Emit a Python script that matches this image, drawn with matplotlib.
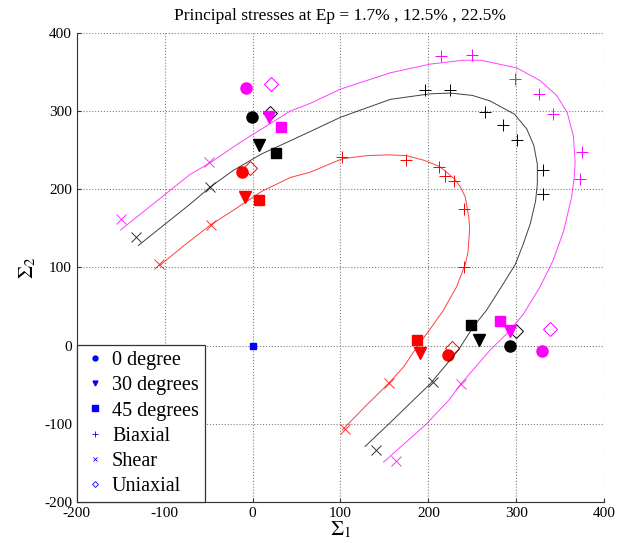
import numpy as np
import matplotlib
matplotlib.use("Agg")
import matplotlib.pyplot as plt

plt.rcParams['font.family'] = ['Liberation Serif', 'DejaVu Serif']
plt.rcParams['mathtext.fontset'] = 'stix'
plt.rcParams['axes.unicode_minus'] = False

# pontos experimentais (sigma1, sigma2) para cada Ep: vermelho 1.7%, preto 12.5%, magenta 22.5%
cores = ['#ff0000', '#000000', '#ff00ff']

# 0 degree (circulo)
circ_x = [[-12, 222], [-1, 293], [-7, 329]]
circ_y = [[222, -12], [293, -1], [329, -7]]
# 30 degrees (triangulo)
tri_x = [[-9, 190], [7, 258], [19, 293]]
tri_y = [[190, -9], [257, 7], [292, 19]]
# 45 degrees (quadrado)
quad_x = [[7, 187], [27, 248], [32, 281]]
quad_y = [[186, 7], [246, 26], [279, 31]]
# uniaxial (losango)
los_x = [[-3, 227], [20, 300], [21, 338]]
los_y = [[227, -3], [298, 19], [335, 21]]

# biaxial (+)
bi_x = [[102, 175, 212, 219, 229, 240, 241],
        [196, 225, 265, 285, 301, 330, 330],
        [214, 250, 299, 326, 342, 375, 373]]
bi_y = [[241, 237, 229, 217, 211, 175, 101],
        [327, 327, 299, 282, 263, 224, 194],
        [371, 372, 341, 322, 296, 247, 213]]

# shear (x)
sh_x = [[-106, -47, 155, 105],
        [-133, -48, 205, 141],
        [-150, -49, 237, 163]]
sh_y = [[104, 154, -48, -106],
        [139, 203, -47, -134],
        [162, 235, -49, -147]]

# curvas ajustadas
curva_x = [
    [-106, -78, -47, -22, 10, 43, 66, 102, 130, 155, 175, 195, 213, 230, 237, 242, 244,
     246, 247, 246, 245, 242, 232, 217, 200, 188, 172, 155, 128, 102],
    [-130, -100, -71, -48, -22, 10, 43, 66, 100, 157, 202, 225, 250, 270, 298, 312,
     320, 324, 324, 322, 316, 308, 299, 283, 266, 251, 234, 202, 157, 128],
    [-150, -110, -71, -48, -14, 43, 66, 100, 157, 202, 240, 260, 301, 327, 346, 358,
     365, 367, 366, 363, 354, 342, 327, 308, 289, 270, 237, 223, 198, 149],
]
curva_y = [
    [102, 128, 155, 173, 197, 215, 222, 239, 243, 244, 243, 237, 229, 213, 202, 190, 177,
     164, 150, 134, 119, 104, 75, 45, 18, 0, -27, -48, -78, -108],
    [128, 155, 181, 203, 224, 245, 262, 274, 292, 315, 322, 323, 320, 313, 296, 277,
     256, 232, 207, 185, 156, 130, 104, 75, 45, 24, -6, -49, -98, -129],
    [148, 184, 219, 234, 260, 300, 310, 328, 349, 360, 365, 365, 355, 339, 320, 298,
     268, 234, 215, 190, 147, 109, 75, 40, 15, -6, -49, -70, -100, -149],
]

legenda = ['0 degree', '30 degrees', '45 degrees', 'Biaxial', 'Shear', 'Uniaxial']

fig = plt.figure(figsize=(6.19, 5.43), dpi=100)
ax = fig.add_axes([0.124, 0.0755, 0.852, 0.864])

# series "fantasma" em (0,0) so para a legenda (como no matlab)
h0, = ax.plot(0, 0, 'o', color='b', ms=3.5, mec='b', zorder=1)
h1, = ax.plot(0, 0, 'v', color='b', ms=3.5, mec='b', zorder=1)
h2, = ax.plot(0, 0, 's', color='b', ms=4, mec='b', zorder=5)
h3, = ax.plot(0, 0, '+', color='b', ms=4, mew=0.6, zorder=1)
h4, = ax.plot(0, 0, 'x', color='b', ms=3, mew=0.6, zorder=1)
h5, = ax.plot(0, 0, 'D', color='b', ms=3, mfc='none', mew=0.6, zorder=1)

for i, c in enumerate(cores):
    ax.plot(curva_x[i], curva_y[i], '-', color=c, lw=0.7, alpha=0.75)
    ax.plot(bi_x[i], bi_y[i], '+', color=c, ms=9, mew=0.7, ls='none')
    ax.plot(sh_x[i], sh_y[i], 'x', color=c, ms=7, mew=0.7, ls='none', alpha=0.8)
    ax.plot(circ_x[i], circ_y[i], 'o', color=c, ms=8, ls='none')
    ax.plot(tri_x[i], tri_y[i], 'v', color=c, ms=8, ls='none')
    ax.plot(quad_x[i], quad_y[i], 's', color=c, ms=7.5, ls='none')
    ax.plot(los_x[i], los_y[i], 'D', color=c, ms=7, mfc='none', mew=0.7, ls='none')

ax.set_xlim(-200, 400)
ax.set_ylim(-200, 400)
ax.set_xticks(np.arange(-200, 401, 100))
ax.set_yticks(np.arange(-200, 401, 100))
ax.grid(True, ls=':', color='#808080', lw=0.8)
ax.spines['top'].set_visible(False)
ax.spines['right'].set_visible(False)
ax.spines['left'].set_color('#333333')
ax.spines['bottom'].set_color('#333333')
ax.tick_params(direction='in', length=3, labelsize=11, colors='#333333', labelcolor='black')

ax.set_title('Principal stresses at Ep = 1.7% , 12.5% , 22.5%', fontsize=12.5, pad=9)
ax.set_xlabel(r'$\Sigma_1$', fontsize=15, labelpad=0)
ax.set_ylabel(r'$\Sigma_2$', fontsize=15, labelpad=4)

leg = ax.legend([h0, h1, h2, h3, h4, h5], legenda, loc='lower left',
                bbox_to_anchor=(0, 0), borderaxespad=0, fontsize=14.5,
                fancybox=False, framealpha=1, edgecolor='#333333',
                handlelength=1.2, handletextpad=0.25, labelspacing=0.3,
                borderpad=0.3)
leg.get_frame().set_linewidth(0.9)

fig.savefig('out.png', dpi=100)
